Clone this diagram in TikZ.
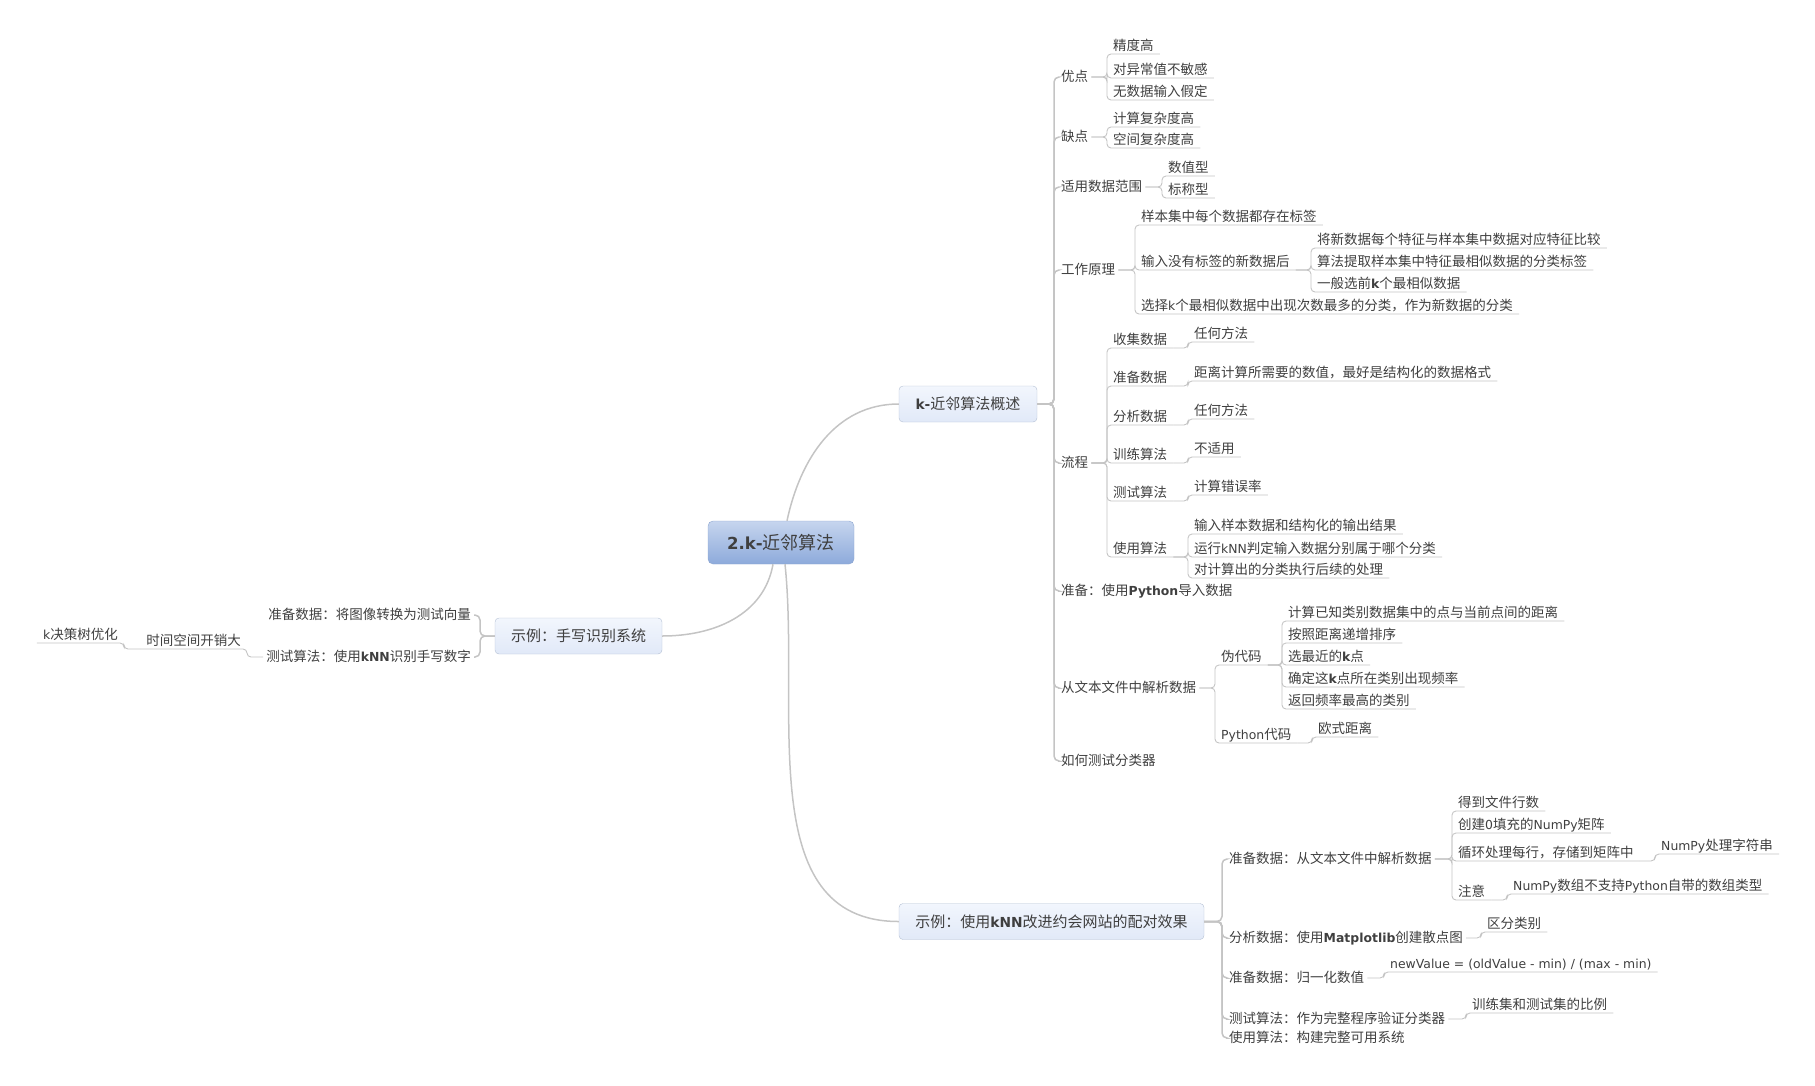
\documentclass[tikz,border=0pt]{standalone}
\usepackage{fontspec}
\setmainfont{Noto Sans CJK SC}
\newfontfamily\latfont{DejaVu Sans}[Scale=0.92]
\newcommand\eng[1]{{\latfont #1}}
\newcommand\engb[1]{{\latfont\bfseries #1}}
\usepackage{tikz}
\definecolor{linegray}{HTML}{C4C4C4}
\definecolor{txt}{HTML}{3F3F3F}
\definecolor{boxtop}{HTML}{F2F6FD}
\definecolor{boxbot}{HTML}{E1E9F8}
\definecolor{boxline}{HTML}{B4C0D4}
\definecolor{roottop}{HTML}{C6D5EE}
\definecolor{rootbot}{HTML}{8DAADB}
\definecolor{rootline}{HTML}{8CA5CF}

\begin{document}
\begin{tikzpicture}[
x=1pt,y=-1pt,
font=\fontsize{13.5}{16}\selectfont,text=txt,
topic/.style={inner xsep=3pt,inner ysep=1.5pt,text height=10pt,text depth=1.5pt},
leaf/.style={anchor=south west,inner xsep=6pt,inner ysep=1.5pt,text height=10pt,text depth=1.5pt},
leafl/.style={leaf,anchor=south east},
mainbox/.style={rectangle,draw=boxline,rounded corners=4pt,top color=boxtop,bottom color=boxbot,minimum height=36pt,font=\fontsize{15}{18}\selectfont},
rootbox/.style={rectangle,draw=rootline,rounded corners=5pt,top color=roottop,bottom color=rootbot,minimum width=146pt,minimum height=43pt,font=\fontsize{18}{22}\selectfont},
branch/.style={draw=linegray,line width=1.5pt},
trunk/.style={draw=linegray,line width=1.5pt,rounded corners=5pt},
link/.style={draw=linegray,line width=0.9pt,rounded corners=4pt}
]
\useasboundingbox (0,0) rectangle (1815,1085);

\node[rootbox] (root) at (781,542.5) {\engb{2.k-}近邻算法};
\node[mainbox,minimum width=138pt] (ovw) at (968,404) {\engb{k-}近邻算法概述};
\node[mainbox,minimum width=167pt] (hand) at (578.5,636) {示例：手写识别系统};
\node[mainbox,minimum width=305pt] (date) at (1051.5,921.5) {示例：使用\engb{kNN}改进约会网站的配对效果};

\draw[branch] ([xshift=6pt]root.north) to[out=78,in=180] (ovw.west);
\draw[branch] ([xshift=-8pt]root.south) to[out=-100,in=0] (hand.east);
\draw[branch] ([xshift=4pt]root.south) to[out=-84,in=180] (date.west);

% overview
\node[topic,anchor=west] (adv) at (1058,77) {优点};
\node[topic,anchor=west] (dis) at (1058,137) {缺点};
\node[topic,anchor=west] (datarange) at (1058,187) {适用数据范围};
\node[topic,anchor=west] (princ) at (1058,270) {工作原理};
\node[topic,anchor=west] (flow) at (1058,463) {流程};
\node[topic,anchor=west] (prep) at (1058,591) {准备：使用\engb{Python}导入数据};
\node[topic,anchor=west] (parse) at (1058,688) {从文本文件中解析数据};
\node[topic,anchor=west] (howtest) at (1058,761) {如何测试分类器};

\draw[trunk] (ovw.east) -| ([xshift=-4pt]adv.west) -- (adv.west);
\draw[trunk] (ovw.east) -| ([xshift=-4pt]dis.west) -- (dis.west);
\draw[trunk] (ovw.east) -| ([xshift=-4pt]datarange.west) -- (datarange.west);
\draw[trunk] (ovw.east) -| ([xshift=-4pt]princ.west) -- (princ.west);
\draw[trunk] (ovw.east) -| ([xshift=-4pt]flow.west) -- (flow.west);
\draw[trunk] (ovw.east) -| ([xshift=-4pt]prep.west) -- (prep.west);
\draw[trunk] (ovw.east) -| ([xshift=-4pt]parse.west) -- (parse.west);
\draw[trunk] (ovw.east) -| ([xshift=-4pt]howtest.west) -- (howtest.west);

\node[leaf] (adv1) at (1107,54) {精度高};
\node[leaf] (adv2) at (1107,78) {对异常值不敏感};
\node[leaf] (adv3) at (1107,100) {无数据输入假定};
\draw[link] (adv.east) -| (adv1.south west) -- (adv1.south east);
\draw[link] (adv.east) -| (adv2.south west) -- (adv2.south east);
\draw[link] (adv.east) -| (adv3.south west) -- (adv3.south east);

\node[leaf] (dis1) at (1107,127) {计算复杂度高};
\node[leaf] (dis2) at (1107,148) {空间复杂度高};
\draw[link] (dis.east) -| (dis1.south west) -- (dis1.south east);
\draw[link] (dis.east) -| (dis2.south west) -- (dis2.south east);

\node[leaf] (datarange1) at (1162,176) {数值型};
\node[leaf] (datarange2) at (1162,198) {标称型};
\draw[link] (datarange.east) -| (datarange1.south west) -- (datarange1.south east);
\draw[link] (datarange.east) -| (datarange2.south west) -- (datarange2.south east);

\node[leaf] (princ1) at (1135,225) {样本集中每个数据都存在标签};
\node[leaf] (princ2) at (1135,270) {输入没有标签的新数据后};
\node[leaf] (princ3) at (1135,314) {选择\eng{k}个最相似数据中出现次数最多的分类，作为新数据的分类};
\draw[link] (princ.east) -| (princ1.south west) -- (princ1.south east);
\draw[link] (princ.east) -| (princ2.south west) -- (princ2.south east);
\draw[link] (princ.east) -| (princ3.south west) -- (princ3.south east);

\node[leaf] (inp1) at (1311,248) {将新数据每个特征与样本集中数据对应特征比较};
\node[leaf] (inp2) at (1311,270) {算法提取样本集中特征最相似数据的分类标签};
\node[leaf] (inp3) at (1311,292) {一般选前\engb{k}个最相似数据};
\draw[link] (princ2.south east) -| (inp1.south west) -- (inp1.south east);
\draw[link] (princ2.south east) -| (inp2.south west) -- (inp2.south east);
\draw[link] (princ2.south east) -| (inp3.south west) -- (inp3.south east);

\node[leaf] (flow1) at (1107,348) {收集数据};
\node[leaf] (flow2) at (1107,386) {准备数据};
\node[leaf] (flow3) at (1107,425) {分析数据};
\node[leaf] (flow4) at (1107,463) {训练算法};
\node[leaf] (flow5) at (1107,501) {测试算法};
\node[leaf] (flow6) at (1107,557) {使用算法};
\draw[link] (flow.east) -| (flow1.south west) -- (flow1.south east);
\draw[link] (flow.east) -| (flow2.south west) -- (flow2.south east);
\draw[link] (flow.east) -| (flow3.south west) -- (flow3.south east);
\draw[link] (flow.east) -| (flow4.south west) -- (flow4.south east);
\draw[link] (flow.east) -| (flow5.south west) -- (flow5.south east);
\draw[link] (flow.east) -| (flow6.south west) -- (flow6.south east);

\node[leaf] (flow1a) at (1188,342) {任何方法};
\node[leaf] (flow2a) at (1188,381) {距离计算所需要的数值，最好是结构化的数据格式};
\node[leaf] (flow3a) at (1188,419) {任何方法};
\node[leaf] (flow4a) at (1188,457) {不适用};
\node[leaf] (flow5a) at (1188,495) {计算错误率};
\node[leaf] (flow6a) at (1188,534) {输入样本数据和结构化的输出结果};
\node[leaf] (flow6b) at (1188,557) {运行\eng{kNN}判定输入数据分别属于哪个分类};
\node[leaf] (flow6c) at (1188,578) {对计算出的分类执行后续的处理};
\draw[link] (flow1.south east) -| (flow1a.south west) -- (flow1a.south east);
\draw[link] (flow2.south east) -| (flow2a.south west) -- (flow2a.south east);
\draw[link] (flow3.south east) -| (flow3a.south west) -- (flow3a.south east);
\draw[link] (flow4.south east) -| (flow4a.south west) -- (flow4a.south east);
\draw[link] (flow5.south east) -| (flow5a.south west) -- (flow5a.south east);
\draw[link] (flow6.south east) -| (flow6a.south west) -- (flow6a.south east);
\draw[link] (flow6.south east) -| (flow6b.south west) -- (flow6b.south east);
\draw[link] (flow6.south east) -| (flow6c.south west) -- (flow6c.south east);

\node[leaf] (pseudo) at (1215,665) {伪代码};
\node[leaf] (pycode) at (1215,743) {\eng{Python}代码};
\draw[link] (parse.east) -| (pseudo.south west) -- (pseudo.south east);
\draw[link] (parse.east) -| (pycode.south west) -- (pycode.south east);

\node[leaf] (pseudo1) at (1282,621) {计算已知类别数据集中的点与当前点间的距离};
\node[leaf] (pseudo2) at (1282,643) {按照距离递增排序};
\node[leaf] (pseudo3) at (1282,665) {选最近的\engb{k}点};
\node[leaf] (pseudo4) at (1282,687) {确定这\engb{k}点所在类别出现频率};
\node[leaf] (pseudo5) at (1282,709) {返回频率最高的类别};
\node[leaf] (pycode1) at (1312,737) {欧式距离};
\draw[link] (pseudo.south east) -| (pseudo1.south west) -- (pseudo1.south east);
\draw[link] (pseudo.south east) -| (pseudo2.south west) -- (pseudo2.south east);
\draw[link] (pseudo.south east) -| (pseudo3.south west) -- (pseudo3.south east);
\draw[link] (pseudo.south east) -| (pseudo4.south west) -- (pseudo4.south east);
\draw[link] (pseudo.south east) -| (pseudo5.south west) -- (pseudo5.south east);
\draw[link] (pycode.south east) -| (pycode1.south west) -- (pycode1.south east);

% dating site example
\node[topic,anchor=west] (dprep) at (1226,859) {准备数据：从文本文件中解析数据};
\node[topic,anchor=west] (dana) at (1226,938) {分析数据：使用\engb{Matplotlib}创建散点图};
\node[topic,anchor=west] (dnorm) at (1226,978) {准备数据：归一化数值};
\node[topic,anchor=west] (dtest) at (1226,1019) {测试算法：作为完整程序验证分类器};
\node[topic,anchor=west] (duse) at (1226,1038) {使用算法：构建完整可用系统};

\draw[trunk] (date.east) -| ([xshift=-4pt]dprep.west) -- (dprep.west);
\draw[trunk] (date.east) -| ([xshift=-4pt]dana.west) -- (dana.west);
\draw[trunk] (date.east) -| ([xshift=-4pt]dnorm.west) -- (dnorm.west);
\draw[trunk] (date.east) -| ([xshift=-4pt]dtest.west) -- (dtest.west);
\draw[trunk] (date.east) -| ([xshift=-4pt]duse.west) -- (duse.west);

\node[leaf] (dprep1) at (1452,811) {得到文件行数};
\node[leaf] (dprep2) at (1452,833) {创建\eng{0}填充的\eng{NumPy}矩阵};
\node[leaf] (dprep3) at (1452,861) {循环处理每行，存储到矩阵中};
\node[leaf] (dprep4) at (1452,900) {注意};
\draw[link] (dprep.east) -| (dprep1.south west) -- (dprep1.south east);
\draw[link] (dprep.east) -| (dprep2.south west) -- (dprep2.south east);
\draw[link] (dprep.east) -| (dprep3.south west) -- (dprep3.south east);
\draw[link] (dprep.east) -| (dprep4.south west) -- (dprep4.south east);

\node[leaf] (dprep3a) at (1655,854) {\eng{NumPy}处理字符串};
\node[leaf] (dprep4a) at (1507,894) {\eng{NumPy}数组不支持\eng{Python}自带的数组类型};
\draw[link] (dprep3.south east) -| (dprep3a.south west) -- (dprep3a.south east);
\draw[link] (dprep4.south east) -| (dprep4a.south west) -- (dprep4a.south east);

\node[leaf] (dana1) at (1481,932) {区分类别};
\node[leaf] (dnorm1) at (1384,972) {\eng{newValue = (oldValue - min) / (max - min)}};
\node[leaf] (dtest1) at (1466,1013) {训练集和测试集的比例};
\draw[link] (dana.east) -| (dana1.south west) -- (dana1.south east);
\draw[link] (dnorm.east) -| (dnorm1.south west) -- (dnorm1.south east);
\draw[link] (dtest.east) -| (dtest1.south west) -- (dtest1.south east);

% handwriting example
\node[topic,anchor=east] (hprep) at (474,615) {准备数据：将图像转换为测试向量};
\node[topic,anchor=east] (htest) at (474,657) {测试算法：使用\engb{kNN}识别手写数字};
\draw[trunk] (hand.west) -| ([xshift=6pt]hprep.east) -- (hprep.east);
\draw[trunk] (hand.west) -| ([xshift=6pt]htest.east) -- (htest.east);

\node[leafl] (hcost) at (247,649) {时间空间开销大};
\node[leafl] (htree) at (124,643) {\eng{k}决策树优化};
\draw[link] (htest.west) -| (hcost.south east) -- (hcost.south west);
\draw[link] (hcost.south west) -| (htree.south east) -- (htree.south west);
\end{tikzpicture}
\end{document}
